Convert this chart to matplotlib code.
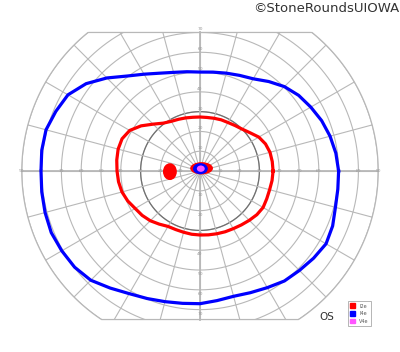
import matplotlib
matplotlib.use('agg')
import matplotlib.pyplot as plt
import matplotlib.patches as mpatches
import numpy as np

# isopter radii (degrees of field) read every 7.5 degrees of meridian, 0 = right, counter-clockwise
meridians = np.arange(0, 360, 7.5)
r_I4e = [70, 69.2, 68, 66.5, 64.6, 62.8, 60.3, 57, 53.8, 52.3, 51.2, 50.4,
         50, 50.6, 51.6, 53.5, 56.5, 60.5, 66.5, 72.5, 77, 78.8, 80.5, 80.6,
         80.3, 80.6, 81, 81.3, 80.6, 79.8, 78, 74.5, 71.5, 69.7, 68.3, 67.4,
         67, 66, 65.5, 66.5, 68, 70, 71, 72.3, 73.5, 72.5, 70.8, 70.2]
r_I2e = [36.9, 36.8, 36.6, 35.8, 34.3, 31.8, 30, 29, 28.3, 28, 27.6, 27.3,
         27.3, 27.4, 27.8, 28.3, 29, 30.5, 33.5, 37.5, 41, 42.6, 42.8, 42.4,
         41.9, 41.5, 40.8, 39.5, 37.8, 36.8, 35.5, 33.8, 32.3, 32, 32, 32.2,
         32.3, 32.5, 32.8, 33.2, 33.6, 34.3, 35.2, 36.2, 36.8, 36.5, 36.4, 36.7]

# scotomas: (x, y, width, height) in degrees
blind_spot_I2e = (-15.2, -0.3, 7.0, 8.5)
central_I2e = (0.8, 1.4, 11.5, 6.2)
central_I4e = (0.2, 1.2, 7.5, 5.6)
central_V4e = (0.4, 1.2, 4.0, 3.2)

ring_levels = np.arange(10, 100, 10)
spoke_angles = np.arange(0, 360, 15)
h_labels = np.arange(10, 100, 10)
v_labels = np.arange(10, 80, 10)

c_I2e = '#ff0000'
c_I4e = '#0000ff'
c_V4e = '#ff55ff'
grid_c = '#b8b8b8'

fig = plt.figure(figsize=(4, 3.52), dpi=100)
ax = fig.add_axes([0, 0, 1, 1])
ax.set_xlim(-101.0, 101.0)
ax.set_ylim(-91.4, 86.4)
ax.axis('off')

# field boundary: circle of 90 cut at 70 above and 75 below
t = np.linspace(0, 2 * np.pi, 721)
bx = 90 * np.cos(t)
by = np.clip(90 * np.sin(t), -75, 70)
clip = mpatches.Polygon(np.column_stack([bx, by]), closed=True,
                        facecolor='none', edgecolor=grid_c, lw=0.9)
ax.add_patch(clip)

for r in ring_levels:
    ln, = ax.plot(r * np.cos(t), r * np.sin(t), color=grid_c, lw=0.8)
    ln.set_clip_path(clip)
ln, = ax.plot(30 * np.cos(t), 30 * np.sin(t), color='#707070', lw=0.9)
ln.set_clip_path(clip)

for a in spoke_angles:
    ar = np.deg2rad(a)
    ln, = ax.plot([0, 95 * np.cos(ar)], [0, 95 * np.sin(ar)], color=grid_c, lw=0.8)
    ln.set_clip_path(clip)

ax.plot([-90, 90], [0, 0], color=grid_c, lw=1.3)
ax.plot([0, 0], [-75, 70], color=grid_c, lw=1.3)

for v in h_labels:
    ax.text(v, 0, str(v), fontsize=3.2, color='#999999', ha='center', va='center')
    ax.text(-v, 0, str(v), fontsize=3.2, color='#999999', ha='center', va='center')
for v in v_labels:
    ax.text(0, v + 1.5, str(v), fontsize=3.2, color='#999999', ha='center', va='center')
    ax.text(0, -v - 2, str(v), fontsize=3.2, color='#999999', ha='center', va='center')

# isopters
th = np.deg2rad(np.append(meridians, meridians[0]))
for radii, col in [(r_I4e, c_I4e), (r_I2e, c_I2e)]:
    rr = np.append(radii, radii[0])
    ax.plot(rr * np.cos(th), rr * np.sin(th), color=col, lw=2.3,
            solid_joinstyle='round', zorder=4)

for (x, y, w, h), col in [(blind_spot_I2e, c_I2e), (central_I2e, c_I2e),
                          (central_I4e, c_I4e), (central_V4e, c_V4e)]:
    ax.add_patch(mpatches.Ellipse((x, y), w, h, facecolor=col,
                                  edgecolor='none', zorder=5))

handles = [mpatches.Patch(color=c_I2e, label='I2e'),
           mpatches.Patch(color=c_I4e, label='I4e'),
           mpatches.Patch(color=c_V4e, label='V4e')]
leg = ax.legend(handles=handles, loc='upper left',
                bbox_to_anchor=(346 / 400, 1 - 299 / 352),
                bbox_transform=fig.transFigure, fontsize=3.5,
                handlelength=1.0, handleheight=1.2, handletextpad=0.8,
                labelspacing=0.5, borderpad=0.4, fancybox=False,
                framealpha=1, edgecolor='#aaaaaa')
leg.get_frame().set_linewidth(0.6)
for txt in leg.get_texts():
    txt.set_color('#555555')

fig.text(327 / 400, 1 - 317 / 352, 'OS', fontsize=7.5, color='#333333',
         ha='center', va='center')
fig.text(0.998, 1 - 9 / 352, '©StoneRoundsUIOWA', fontsize=9.5, color='#333333',
         ha='right', va='center')

plt.savefig('out.png', dpi=100)
plt.close()
